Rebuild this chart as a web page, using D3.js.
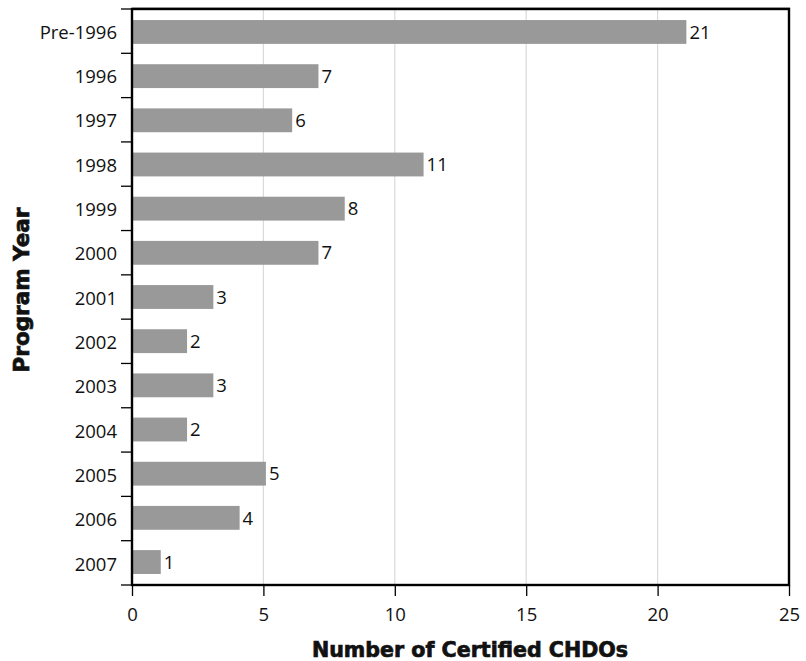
<!DOCTYPE html>
<html><head><meta charset="utf-8">
<script src="https://cdn.jsdelivr.net/npm/d3@7"></script>
<style>body{margin:0;background:#fff}svg{display:block}text{font-family:"Open Sans",sans-serif;fill:#111}</style>
</head><body><svg id="c" width="806" height="661"></svg>
<script>
const categories = ["Pre-1996","1996","1997","1998","1999","2000","2001","2002","2003","2004","2005","2006","2007"];
const values = [21,7,6,11,8,7,3,2,3,2,5,4,1];
const xTicks = [0,5,10,15,20,25];

const svg = d3.select("#c");
const m = {l:132, r:789, t:9, b:585};
const x = d3.scaleLinear().domain([0,25]).range([m.l, m.r]);
const y = d3.scaleBand().domain(categories).range([m.t, m.b]).paddingInner(0.46).paddingOuter(0.25);
const yb = d3.scaleBand().domain(categories).range([m.t, m.b]);
const fs = 18.5;

// gridlines
svg.append("g").selectAll("line").data(xTicks.filter(d=>d>0&&d<25)).join("line")
  .attr("x1",d=>x(d)).attr("x2",d=>x(d)).attr("y1",m.t).attr("y2",m.b)
  .attr("stroke","#dadada").attr("stroke-width",1.2);

// bars
svg.append("g").selectAll("rect").data(values).join("rect")
  .attr("x",x(0)).attr("y",(d,i)=>y(categories[i]))
  .attr("width",d=>x(d)-x(0)+2.5).attr("height",y.bandwidth())
  .attr("fill","#999999");

// value labels
svg.append("g").selectAll("text").data(values).join("text")
  .attr("x",d=>x(d)+5.5).attr("y",(d,i)=>y(categories[i])+y.bandwidth()/2)
  .attr("dy","0.36em").attr("font-size",fs).text(d=>d);

// frame
svg.append("line").attr("x1",m.l).attr("x2",m.r+1).attr("y1",m.t-1.5).attr("y2",m.t-1.5).attr("stroke","#bbb").attr("stroke-width",1);
svg.append("rect").attr("x",m.l).attr("y",m.t).attr("width",m.r-m.l).attr("height",m.b-m.t)
  .attr("fill","none").attr("stroke","#000").attr("stroke-width",2.4);

// x axis
const xa = svg.append("g").attr("transform",`translate(0,${m.b})`)
  .call(d3.axisBottom(x).tickValues(xTicks).tickSize(11).tickPadding(12).tickFormat(d3.format("d")));
xa.select(".domain").remove();
xa.selectAll("line").attr("stroke","#000").attr("stroke-width",1.3);
xa.selectAll("text").attr("font-size",fs).style("font-family","'Open Sans',sans-serif").attr("fill","#111");

// y axis: ticks at band boundaries
const bounds = categories.map(c=>yb(c)).concat([m.b]);
svg.append("g").selectAll("line").data(bounds).join("line")
  .attr("x1",m.l-11).attr("x2",m.l).attr("y1",d=>d).attr("y2",d=>d)
  .attr("stroke","#000").attr("stroke-width",1.3);
svg.append("g").selectAll("text").data(categories).join("text")
  .attr("x",m.l-15).attr("y",c=>yb(c)+yb.bandwidth()/2+1).attr("dy","0.36em")
  .attr("text-anchor","end").attr("font-size",fs).text(c=>c);

// titles
svg.append("text").attr("x",470).attr("y",657).attr("text-anchor","middle")
  .style("font-family","'DejaVu Sans',sans-serif").attr("font-size",20.6).attr("font-weight","bold")
  .attr("stroke","#111").attr("stroke-width",0.7).text("Number of Certified CHDOs");
svg.append("text").attr("transform",`translate(28.5,290) rotate(-90)`)
  .attr("text-anchor","middle").style("font-family","'DejaVu Sans',sans-serif").attr("font-size",21.5).attr("font-weight","bold")
  .attr("stroke","#111").attr("stroke-width",0.7).text("Program Year");
</script></body></html>
